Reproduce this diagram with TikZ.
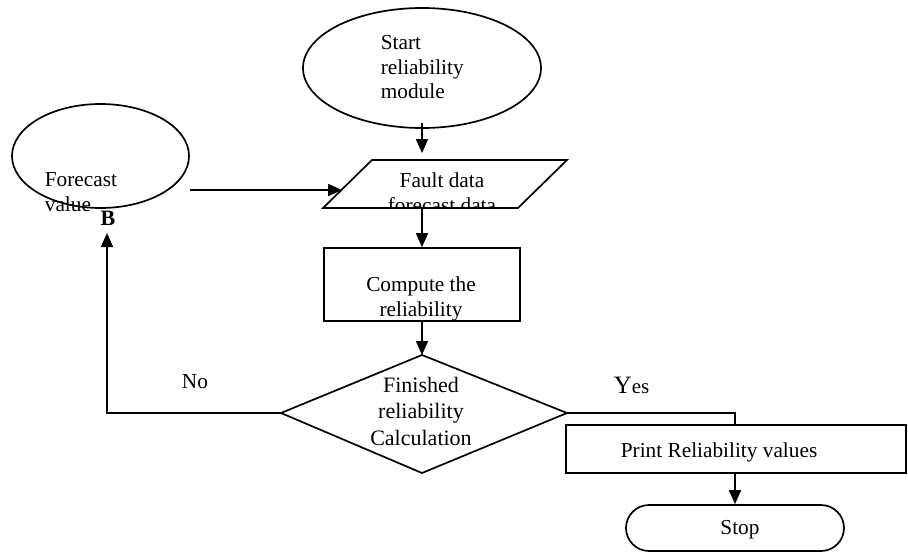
\documentclass[tikz,border=0pt]{standalone}
\usepackage{fontspec}
\setmainfont{Liberation Serif}
\usetikzlibrary{arrows.meta,shapes.geometric}
\begin{document}
\begin{tikzpicture}[x=1pt,y=-1pt,line width=1.7pt,
  arr/.style={-{Triangle[width=12pt,length=14pt]}},
  txt/.style={font=\fontsize{21.3}{24.5}\selectfont,inner sep=0pt},
  bigtxt/.style={font=\fontsize{22}{26.5}\selectfont,inner sep=0pt},
  box/.style={draw,rectangle,inner sep=0pt}]
\useasboundingbox (0,0) rectangle (908,552);
% shapes
\node[draw,ellipse,minimum width=238pt,minimum height=120pt,inner sep=0pt] (start) at (422,68) {};
\node[txt,align=left,anchor=north west] (starttxt) at (380,35) {Start\\reliability\\module};
\node[draw,ellipse,minimum width=177pt,minimum height=104pt,inner sep=0pt] (fc) at (100.5,156) {};
\node[txt,align=left,anchor=north west] (fctxt) at (44,172) {Forecast\\value};
\node[font=\fontsize{22}{26}\selectfont\bfseries,inner sep=0pt,anchor=north] (B) at (108,210) {B};
% parallelogram
\coordinate (p1) at (372,160);
\coordinate (p2) at (567,160);
\coordinate (p3) at (518,208);
\coordinate (p4) at (323,208);
\draw (p1) -- (p2) -- (p3) -- (p4) -- cycle;
\begin{scope}
\clip (p1) -- (p2) -- (p3) -- (p4) -- cycle;
\node[txt,align=center,anchor=north] (partxt) at (442,172) {Fault data\\forecast data};
\end{scope}
\coordinate (ptop) at (422,160);
\coordinate (pbot) at (422,208);
\coordinate (pleft) at (342,190);
\coordinate (fcout) at (190,190);
% compute
\node[box,minimum width=196pt,minimum height=73pt] (comp) at (422,284.5) {};
\node[txt,align=center,anchor=north] (comptxt) at (421,276) {Compute the\\reliability};
% diamond
\coordinate (dtop) at (422,355);
\coordinate (dright) at (567,413);
\coordinate (dbot) at (422,473);
\coordinate (dleft) at (281,413);
\draw (dtop) -- (dright) -- (dbot) -- (dleft) -- cycle;
\node[bigtxt,align=center,anchor=north] (dtxt) at (421,376) {Finished\\reliability\\Calculation};
% print
\node[box,minimum width=340pt,minimum height=48pt] (print) at (736,449) {};
\node[txt,anchor=north west] (printtxt) at (620,442) {Print Reliability values};
% stop
\node[draw,rectangle,rounded corners=23pt,minimum width=218pt,minimum height=46pt,inner sep=0pt] (stop) at (735,528) {};
\node[txt,anchor=north] (stoptxt) at (740,520) {Stop};
% labels
\node[txt,anchor=north] (no) at (195,374) {No};
\node[inner sep=0pt,anchor=north west] (yes) at (613,376) {\fontsize{25}{30}\selectfont Y\fontsize{21}{24}\selectfont es};
% connectors
\coordinate (bpt) at (107,233);
\coordinate (yturn) at (735,425);
\draw[arr] ([yshift=6pt]start.south) -- ([yshift=7pt]ptop);
\draw[arr] (fcout) -- (pleft);
\draw[arr] (pbot) -- (comp.north);
\draw[arr] (comp.south) -- (dtop);
\draw[arr] (dleft) -| (bpt);
\draw (dright) -| (yturn);
\draw[arr] (stop.north |- print.south) -- (stop.north);
\end{tikzpicture}
\end{document}
